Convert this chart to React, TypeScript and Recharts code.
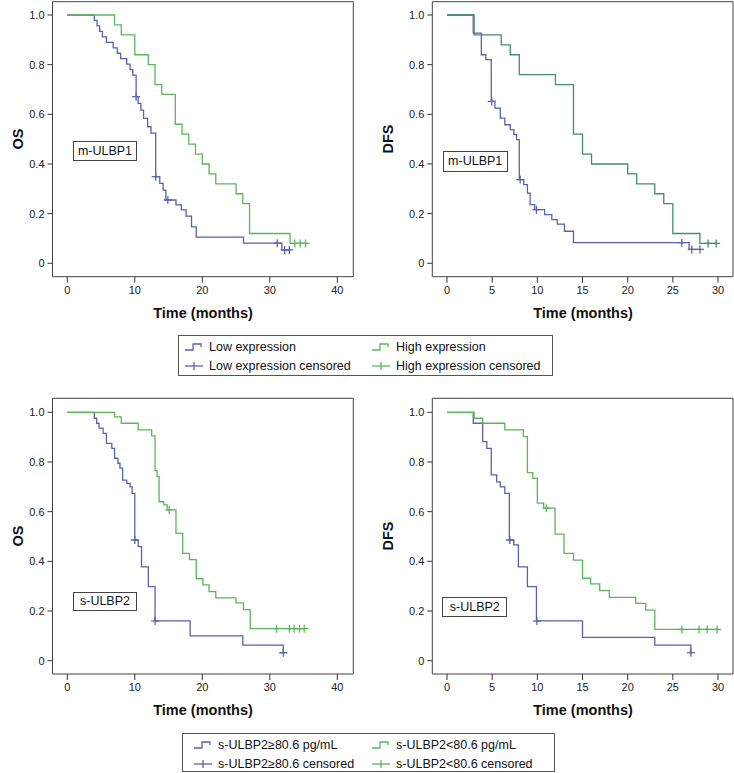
import React from "react";
import { LineChart, Line, XAxis, YAxis, ReferenceArea } from "recharts";

// ---- data (t = months, s = survival after the drop) ----
// top left: OS, m-ULBP1
const osM_lowT = [4.0, 4.4, 4.8, 5.2, 5.8, 6.8, 7.4, 7.9, 8.8, 9.3, 9.7, 10.2, 10.5, 10.9, 11.3, 11.9, 12.4, 13.1, 13.7, 14.2, 14.6, 16.1, 16.9, 17.6, 18.4, 19.1, 26.1, 31.8];
const osM_lowS = [0.978, 0.956, 0.934, 0.912, 0.89, 0.868, 0.846, 0.824, 0.802, 0.78, 0.758, 0.671, 0.644, 0.617, 0.584, 0.55, 0.524, 0.349, 0.322, 0.295, 0.255, 0.235, 0.215, 0.19, 0.147, 0.105, 0.081, 0.054];
const osM_lowCensT = [10.2, 13.1, 14.9, 31.1, 32.2, 32.9];
const osM_highT = [7, 8, 10, 12, 13, 14, 16, 17, 18, 19, 20, 21, 22, 25, 26, 27, 33];
const osM_highS = [0.96, 0.92, 0.84, 0.8, 0.72, 0.68, 0.56, 0.52, 0.48, 0.44, 0.4, 0.36, 0.32, 0.28, 0.24, 0.12, 0.08];
const osM_highCensT = [33.7, 34.5, 35.3];

// top right: DFS, m-ULBP1
const dfsM_lowT = [2.9, 3.8, 4.3, 4.9, 5.3, 5.9, 6.4, 7.0, 7.4, 7.7, 8.0, 8.5, 8.9, 9.2, 9.7, 10.8, 11.6, 12.2, 13.0, 14.0, 26.8];
const dfsM_lowS = [0.927, 0.84, 0.82, 0.652, 0.625, 0.585, 0.558, 0.538, 0.518, 0.498, 0.337, 0.317, 0.283, 0.236, 0.216, 0.196, 0.176, 0.158, 0.129, 0.083, 0.056];
const dfsM_lowCensT = [4.95, 8.1, 9.9, 26.0, 27.1, 28.0];
const dfsM_highT = [3, 6, 7, 8, 12, 14, 15, 16, 20, 21, 23, 24, 25, 28];
const dfsM_highS = [0.92, 0.88, 0.84, 0.76, 0.72, 0.52, 0.44, 0.4, 0.36, 0.32, 0.28, 0.24, 0.12, 0.08];
const dfsM_highCensT = [28.9, 29.8];

// bottom left: OS, s-ULBP2
const osS_hiT = [4.0, 4.35, 4.7, 5.3, 5.8, 6.6, 7.0, 7.5, 7.8, 8.2, 8.8, 9.3, 9.6, 10.0, 10.5, 11.0, 12.0, 13.0, 18.2, 26.0, 32.0];
const osS_hiS = [0.976, 0.956, 0.936, 0.915, 0.875, 0.855, 0.815, 0.795, 0.775, 0.727, 0.714, 0.7, 0.674, 0.486, 0.459, 0.378, 0.298, 0.16, 0.1, 0.063, 0.032];
const osS_hiCensT = [10.0, 13.0, 32.0];
const osS_loT = [7, 8, 10.5, 12.5, 13.0, 13.3, 13.6, 14.3, 14.8, 16.1, 17.1, 18.1, 19.1, 20.1, 21.0, 22.0, 25.0, 26.1, 27.1];
const osS_loS = [0.982, 0.956, 0.929, 0.905, 0.765, 0.741, 0.64, 0.627, 0.607, 0.513, 0.432, 0.407, 0.33, 0.305, 0.278, 0.253, 0.233, 0.206, 0.129];
const osS_loCensT = [15.1, 31.0, 32.9, 33.6, 34.4, 35.1];

// bottom right: DFS, s-ULBP2
const dfsS_hiT = [2.9, 3.95, 4.4, 4.9, 5.5, 5.9, 6.4, 6.9, 7.4, 7.9, 8.9, 9.9, 15.0, 23.0, 27.0];
const dfsS_hiS = [0.956, 0.882, 0.855, 0.748, 0.72, 0.7, 0.674, 0.486, 0.466, 0.378, 0.298, 0.16, 0.094, 0.063, 0.032];
const dfsS_hiCensT = [6.95, 9.95, 27.0];
const dfsS_loT = [3.0, 3.95, 6.4, 8.45, 8.9, 9.5, 10.0, 10.7, 11.96, 12.95, 14.0, 15.0, 15.9, 16.9, 17.97, 20.9, 22.0, 23.0];
const dfsS_loS = [0.976, 0.956, 0.929, 0.902, 0.757, 0.734, 0.634, 0.614, 0.51, 0.432, 0.405, 0.332, 0.309, 0.282, 0.255, 0.231, 0.204, 0.126];
const dfsS_loCensT = [11.0, 26.0, 27.9, 28.8, 29.9];

const osTicks = [0, 10, 20, 30, 40];
const dfsTicks = [0, 5, 10, 15, 20, 25, 30];
const yTicks = [0, 0.2, 0.4, 0.6, 0.8, 1.0];

const legendTop = ["Low expression", "High expression", "Low expression censored", "High expression censored"];
const legendBottom = ["s-ULBP2≥80.6 pg/mL", "s-ULBP2<80.6 pg/mL", "s-ULBP2≥80.6 censored", "s-ULBP2<80.6 censored"];

const BLUE = "#5a62aa";
const GREEN = "#5cb55c";
const TEAL = "#448c6c";
const FONT = "'Liberation Sans', Arial, sans-serif";

type Pt = { t: number; s: number };

// KM step curve from event times
function curve(t: number[], s: number[], cens: number[]): Pt[] {
  const pts: Pt[] = [{ t: 0, s: 1 }];
  t.forEach((x, i) => pts.push({ t: x, s: s[i] }));
  const end = Math.max(t[t.length - 1], ...cens);
  pts.push({ t: end, s: s[s.length - 1] });
  return pts;
}

// survival level at each censor time
function censored(t: number[], s: number[], cens: number[]): Pt[] {
  return cens.map((c) => {
    let v = 1;
    t.forEach((x, i) => {
      if (x <= c) v = s[i];
    });
    return { t: c, s: v };
  });
}

const Plus = (color: string) => (props: any) => {
  const { cx, cy, index } = props;
  if (cx == null || cy == null) return <g key={index} />;
  return (
    <g key={`c-${index}`}>
      <line x1={cx - 4} x2={cx + 4} y1={cy} y2={cy} stroke={color} strokeWidth={1.3} />
      <line x1={cx} x2={cx} y1={cy - 4} y2={cy + 4} stroke={color} strokeWidth={1.3} />
    </g>
  );
};

type Series = { data: Pt[]; cens: Pt[]; color: string };

type PanelProps = {
  left: number;
  top: number;
  marginTop: number;
  marginLeft: number;
  marginRight: number;
  marginBottom: number;
  xDomain: [number, number];
  yDomain: [number, number];
  xTicks: number[];
  series: Series[];
};

function Panel(p: PanelProps) {
  const tick = { fontSize: 11, fill: "#222", fontFamily: FONT };
  return (
    <div style={{ position: "absolute", left: p.left, top: p.top }}>
      <LineChart
        width={367}
        height={330}
        margin={{ top: p.marginTop, right: p.marginRight, bottom: p.marginBottom, left: p.marginLeft }}
      >
        <XAxis
          type="number"
          dataKey="t"
          domain={p.xDomain}
          ticks={p.xTicks}
          allowDataOverflow
          axisLine={false}
          tickSize={6}
          tickMargin={3}
          height={30}
          stroke="#333"
          tick={tick}
        />
        <YAxis
          type="number"
          dataKey="s"
          domain={p.yDomain}
          ticks={yTicks}
          allowDataOverflow
          axisLine={false}
          tickSize={5}
          tickMargin={3}
          width={40}
          stroke="#333"
          tick={tick}
          tickFormatter={(v: number) => (v === 0 ? "0" : v.toFixed(1))}
        />
        <ReferenceArea
          x1={p.xDomain[0]}
          x2={p.xDomain[1]}
          y1={p.yDomain[0]}
          y2={p.yDomain[1]}
          fill="none"
          stroke="#444"
          strokeWidth={1}
          ifOverflow="visible"
        />
        {p.series.map((s, i) => (
          <Line
            key={`l${i}`}
            data={s.data}
            dataKey="s"
            type="stepAfter"
            stroke={s.color}
            strokeWidth={1.3}
            dot={false}
            activeDot={false}
            isAnimationActive={false}
          />
        ))}
        {p.series.map((s, i) => (
          <Line
            key={`c${i}`}
            data={s.cens}
            dataKey="s"
            stroke="none"
            dot={Plus(s.color)}
            activeDot={false}
            isAnimationActive={false}
          />
        ))}
      </LineChart>
    </div>
  );
}

function Title({ text, x, y, rotate }: { text: string; x: number; y: number; rotate?: boolean }) {
  return (
    <div
      style={{
        position: "absolute",
        left: x,
        top: y,
        transform: `translate(-50%, -50%)${rotate ? " rotate(-90deg)" : ""}`,
        fontFamily: FONT,
        fontWeight: "bold",
        fontSize: 14.5,
        color: "#111",
        whiteSpace: "nowrap",
      }}
    >
      {text}
    </div>
  );
}

function Tag({ text, x, y, w, h }: { text: string; x: number; y: number; w: number; h: number }) {
  return (
    <div
      style={{
        position: "absolute",
        left: x,
        top: y,
        width: w,
        height: h,
        boxSizing: "border-box",
        border: "1px solid #444",
        background: "#fff",
        fontFamily: FONT,
        fontSize: 12.5,
        color: "#111",
        display: "flex",
        alignItems: "center",
        justifyContent: "center",
      }}
    >
      {text}
    </div>
  );
}

function StepIcon({ color }: { color: string }) {
  return (
    <svg width={20} height={10} style={{ display: "block" }}>
      <path d="M1 8 H9 V2 H17 V5" fill="none" stroke={color} strokeWidth={1.3} />
    </svg>
  );
}

function CensIcon({ color }: { color: string }) {
  return (
    <svg width={20} height={10} style={{ display: "block" }}>
      <line x1={1} x2={19} y1={5} y2={5} stroke={color} strokeWidth={1.3} />
      <line x1={10} x2={10} y1={1} y2={9} stroke={color} strokeWidth={1.3} />
    </svg>
  );
}

function LegendBox({
  names,
  x,
  y,
  w,
  h,
  col1,
  col2,
  colors,
}: {
  names: string[];
  x: number;
  y: number;
  w: number;
  h: number;
  col1: number;
  col2: number;
  colors: [string, string];
}) {
  const item = (i: number, cx: number, cy: number) => (
    <div
      key={i}
      style={{ position: "absolute", left: cx - x, top: cy - y - 8, height: 16, display: "flex", alignItems: "center" }}
    >
      {i < 2 ? <StepIcon color={colors[i % 2]} /> : <CensIcon color={colors[i % 2]} />}
      <span style={{ marginLeft: 5, fontFamily: FONT, fontSize: 12.5, color: "#111", whiteSpace: "nowrap" }}>
        {names[i]}
      </span>
    </div>
  );
  const r1 = y + 11;
  const r2 = y + 29.5;
  return (
    <div
      style={{
        position: "absolute",
        left: x,
        top: y,
        width: w,
        height: h,
        boxSizing: "border-box",
        border: "1px solid #555",
        background: "#fff",
      }}
    >
      {item(0, col1, r1)}
      {item(1, col2, r1)}
      {item(2, col1, r2)}
      {item(3, col2, r2)}
    </div>
  );
}

export default function App() {
  const osX: [number, number] = [-2.19, 42.37];
  const dfsX: [number, number] = [-1.63, 31.66];
  const topY: [number, number] = [-0.054, 1.0536];
  const botY: [number, number] = [-0.0535, 1.0564];

  const osM: Series[] = [
    { data: curve(osM_lowT, osM_lowS, osM_lowCensT), cens: censored(osM_lowT, osM_lowS, osM_lowCensT), color: BLUE },
    { data: curve(osM_highT, osM_highS, osM_highCensT), cens: censored(osM_highT, osM_highS, osM_highCensT), color: GREEN },
  ];
  const dfsM: Series[] = [
    { data: curve(dfsM_lowT, dfsM_lowS, dfsM_lowCensT), cens: censored(dfsM_lowT, dfsM_lowS, dfsM_lowCensT), color: BLUE },
    { data: curve(dfsM_highT, dfsM_highS, dfsM_highCensT), cens: censored(dfsM_highT, dfsM_highS, dfsM_highCensT), color: TEAL },
  ];
  const osS: Series[] = [
    { data: curve(osS_hiT, osS_hiS, osS_hiCensT), cens: censored(osS_hiT, osS_hiS, osS_hiCensT), color: BLUE },
    { data: curve(osS_loT, osS_loS, osS_loCensT), cens: censored(osS_loT, osS_loS, osS_loCensT), color: GREEN },
  ];
  const dfsS: Series[] = [
    { data: curve(dfsS_hiT, dfsS_hiS, dfsS_hiCensT), cens: censored(dfsS_hiT, dfsS_hiS, dfsS_hiCensT), color: BLUE },
    { data: curve(dfsS_loT, dfsS_loS, dfsS_loCensT), cens: censored(dfsS_loT, dfsS_loS, dfsS_loCensT), color: GREEN },
  ];

  return (
    <div style={{ position: "absolute", left: 0, top: 0, width: 734, height: 773, background: "#fff", overflow: "hidden" }}>
      <Panel left={0} top={0} marginTop={1.7} marginLeft={12.5} marginRight={13.7} marginBottom={23.3}
        xDomain={osX} yDomain={topY} xTicks={osTicks} series={osM} />
      <Panel left={367} top={0} marginTop={1.7} marginLeft={25.3} marginRight={1} marginBottom={23.3}
        xDomain={dfsX} yDomain={topY} xTicks={dfsTicks} series={dfsM} />
      <Panel left={0} top={390} marginTop={8.3} marginLeft={12.5} marginRight={13.7} marginBottom={16}
        xDomain={osX} yDomain={botY} xTicks={osTicks} series={osS} />
      <Panel left={367} top={390} marginTop={8.3} marginLeft={25.3} marginRight={1} marginBottom={16}
        xDomain={dfsX} yDomain={botY} xTicks={dfsTicks} series={dfsS} />

      <Title text="OS" x={18} y={139} rotate />
      <Title text="DFS" x={388} y={139} rotate />
      <Title text="OS" x={18} y={536} rotate />
      <Title text="DFS" x={388} y={536} rotate />
      <Title text="Time (months)" x={203} y={313} />
      <Title text="Time (months)" x={583} y={313} />
      <Title text="Time (months)" x={203} y={710} />
      <Title text="Time (months)" x={583} y={710} />

      <Tag text="m-ULBP1" x={72.7} y={141.3} w={64.6} h={19.4} />
      <Tag text="m-ULBP1" x={442.7} y={150.7} w={65} h={21.6} />
      <Tag text="s-ULBP2" x={72.7} y={591.7} w={64.6} h={19} />
      <Tag text="s-ULBP2" x={442.3} y={596.7} w={65} h={20.6} />

      <LegendBox names={legendTop} x={178} y={335} w={375} h={41} col1={183} col2={370} colors={[BLUE, GREEN]} />
      <LegendBox names={legendBottom} x={182} y={733} w={373} h={39} col1={192} col2={370} colors={[BLUE, GREEN]} />
    </div>
  );
}
